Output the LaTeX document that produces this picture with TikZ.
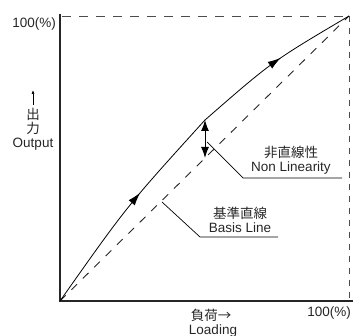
\documentclass[tikz,border=0pt]{standalone}
\usepackage{fontspec}
\setmainfont{Liberation Sans}
\newfontfamily\jp{Noto Sans CJK JP}
\usetikzlibrary{arrows.meta,decorations.markings}
\tikzset{
  axisline/.style={line width=1.4pt,draw=black!85},
  borderdash/.style={line width=0.9pt,draw=black!70,dash pattern=on 9pt off 8pt},
  borderdashv/.style={line width=0.9pt,draw=black!70,dash pattern=on 6pt off 6pt},
  basisdash/.style={line width=0.9pt,draw=black!85,dash pattern=on 8pt off 8pt},
  curveline/.style={line width=0.8pt,draw=black},
  leader/.style={line width=0.7pt,draw=black},
  lbl/.style={inner sep=0pt,font=\fontsize{13.5}{14}\selectfont,text=black!85},
  midarrow/.style={postaction={decorate},decoration={markings,mark=at position #1 with {\arrow{Latex[length=13pt,width=8pt]}}}}
}
\begin{document}
\begin{tikzpicture}[x=1pt,y=-1pt]
\useasboundingbox (0,0) rectangle (353,336);
% key points
\coordinate (O) at (60,301);
\coordinate (E) at (349,16);
\coordinate (K) at (205,120);
\coordinate (B) at (205,158);
\coordinate (BR) at (349,301);
% borders
\draw[borderdash] (62,16) -- (E);
\draw[borderdashv] (E) -- (BR);
% basis line
\draw[basisdash] (O) -- (E);
% axes
\draw[axisline] (60,14) -- (O) -- (353,301);
% curve
\draw[curveline,midarrow=0.58] (O) .. controls (127,206) .. (K);
\draw[curveline,midarrow=0.55] (K) .. controls (272,61.5) .. (E);
% nonlinearity double arrow
\draw[line width=1pt,{Latex[length=11pt,width=8pt]}-{Latex[length=11pt,width=8pt]}] (K) -- (B);
% leader lines
\coordinate (n1) at (207,142);
\coordinate (n2) at (243,178);
\coordinate (n3) at (342,178);
\draw[leader] (n1) -- (n2) -- (n3);
\coordinate (b1) at (162,202);
\coordinate (b2) at (200,237);
\coordinate (b3) at (278,237);
\draw[leader] (b1) -- (b2) -- (b3);
% labels
\node[lbl] (nlj) at (291,152) {\jp 非直線性};
\node[lbl] (nle) at (291,168) {Non Linearity};
\node[lbl] (blj) at (240,213) {\jp 基準直線};
\node[lbl] (ble) at (240,228) {Basis Line};
\node[lbl,anchor=east] (y100) at (56,24) {100(\%)};
\draw[line width=0.7pt,-{Latex[length=4pt,width=3pt]}] (33,105) -- (33,90);
\node[lbl] (yj1) at (33,114) {\jp 出};
\node[lbl] (yj2) at (33,128) {\jp 力};
\node[lbl] (ye) at (33,144) {Output};
\node[lbl] (xj) at (211,315) {\jp 負荷→};
\node[lbl] (xe) at (213,331) {Loading};
\node[lbl,anchor=east] (x100) at (351,313) {100(\%)};
\end{tikzpicture}
\end{document}
